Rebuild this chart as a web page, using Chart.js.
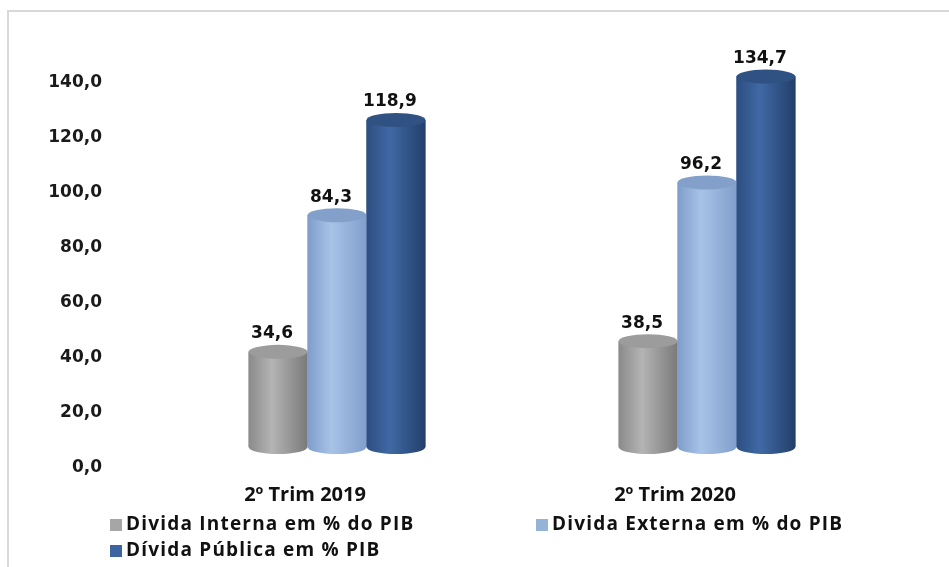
<!DOCTYPE html>
<html>
<head>
<meta charset="utf-8">
<script src="https://cdn.jsdelivr.net/npm/chart.js@4"></script>
<style>
  body { margin: 0; background: #fff; }
  #wrap { position: relative; width: 949px; height: 567px; overflow: hidden; }
  #frame { position: absolute; left: 7px; top: 10px; width: 1000px; height: 700px; border: 2px solid #d9d9d9; }
  .leg { position: absolute; font: bold 19px "Open Sans", sans-serif; letter-spacing: 1.2px; color: #111; white-space: nowrap; line-height: 20px; }
  .leg span { display: inline-block; width: 12px; height: 12px; margin-right: 4px; vertical-align: -1px; }
</style>
</head>
<body>
<div id="wrap">
  <div id="frame"></div>
  <canvas id="chart" width="949" height="567"></canvas>
  <div id="legend"></div>
</div>
<script>
// data
const categories = ["2º Trim 2019", "2º Trim 2020"];
const seriesNames = ["Divida Interna em % do PIB", "Divida Externa em % do PIB", "Dívida Pública em % PIB"];
const internaValues = [34.6, 38.5];
const externaValues = [84.3, 96.2];
const publicaValues = [118.9, 134.7];
const yTicks = [0, 20, 40, 60, 80, 100, 120, 140];

// colours: flat (legend), edge / centre / edge for the cylinder, top ellipse
const flatColors = ["#a6a6a6", "#95b3d7", "#3b64a0"];
const shades = [
  ["#8a8a8a", "#b4b4b4", "#7a7a7a"],
  ["#7f9dcb", "#a8c3e7", "#819fcc"],
  ["#2d4e80", "#4069a5", "#223f69"],
];
const topColors = ["#9c9c9c", "#83a0cb", "#2f5283"];

const fmt = (v) => v.toFixed(1).replace(".", ",");

// paints each bar as a cylinder + value label on top
const cylinderPlugin = {
  id: "cylinders",
  afterDatasetsDraw(chart) {
    const ctx = chart.ctx;
    chart.data.datasets.forEach((ds, i) => {
      const meta = chart.getDatasetMeta(i);
      meta.data.forEach((bar, j) => {
        const w = bar.width;
        const left = bar.x - w / 2;
        const ry = 7;
        const grad = ctx.createLinearGradient(left, 0, left + w, 0);
        grad.addColorStop(0, shades[i][0]);
        grad.addColorStop(0.4, shades[i][1]);
        grad.addColorStop(1, shades[i][2]);
        ctx.save();
        // body + rounded bottom
        ctx.fillStyle = grad;
        ctx.beginPath();
        ctx.moveTo(left, bar.y);
        ctx.lineTo(left, bar.base);
        ctx.ellipse(bar.x, bar.base, w / 2, ry, 0, Math.PI, 0, true);
        ctx.lineTo(left + w, bar.y);
        ctx.closePath();
        ctx.fill();
        // top
        ctx.fillStyle = topColors[i];
        ctx.beginPath();
        ctx.ellipse(bar.x, bar.y, w / 2, ry, 0, 0, Math.PI * 2);
        ctx.fill();
        // label
        ctx.fillStyle = "#111";
        ctx.font = "bold 17px 'DejaVu Sans', Verdana, sans-serif";
        ctx.textAlign = "center";
        ctx.textBaseline = "middle";
        ctx.fillText(fmt(ds.data[j]), bar.x - 6, bar.y - 18);
        ctx.restore();
      });
    });
  },
};

const allValues = [internaValues, externaValues, publicaValues];

const chart = new Chart(document.getElementById("chart"), {
  type: "bar",
  data: {
    labels: categories,
    datasets: seriesNames.map((name, i) => ({
      label: name,
      data: allValues[i],
      backgroundColor: flatColors[i],
      borderWidth: 0,
      barPercentage: 1,
      categoryPercentage: 0.478,
    })),
  },
  options: {
    responsive: false,
    animation: false,
    layout: { padding: { left: 48, right: 57, top: 62, bottom: 0 } },
    plugins: { legend: { display: false }, tooltip: { enabled: false } },
    scales: {
      x: {
        grid: { display: false, drawTicks: false },
        border: { display: false },
        ticks: {
          padding: 36,
          labelOffset: -32,
          color: "#111",
          font: { family: "'Open Sans'", weight: "bold", size: 20 },
        },
        afterFit: (s) => { s.height = 120; },
      },
      y: {
        min: 0,
        max: 140,
        grid: { display: false, drawTicks: false },
        border: { display: false },
        afterBuildTicks: (s) => { s.ticks = yTicks.map((v) => ({ value: v })); },
        ticks: {
          padding: 50,
          labelOffset: 21,
          color: "#1a1a1a",
          font: { family: "'DejaVu Sans', Verdana, sans-serif", weight: "bold", size: 17 },
          callback: (v) => fmt(v),
        },
        afterFit: (s) => { s.width = 104; },
      },
    },
  },
  plugins: [cylinderPlugin],
});

// legend (two columns, Excel-style)
const legendPos = [[110, 513], [536, 513], [110, 539]];
const legend = document.getElementById("legend");
seriesNames.forEach((name, i) => {
  const d = document.createElement("div");
  d.className = "leg";
  d.style.left = legendPos[i][0] + "px";
  d.style.top = legendPos[i][1] + "px";
  d.innerHTML = '<span style="background:' + flatColors[i] + '"></span>' + name;
  legend.appendChild(d);
});
</script>
</body>
</html>
